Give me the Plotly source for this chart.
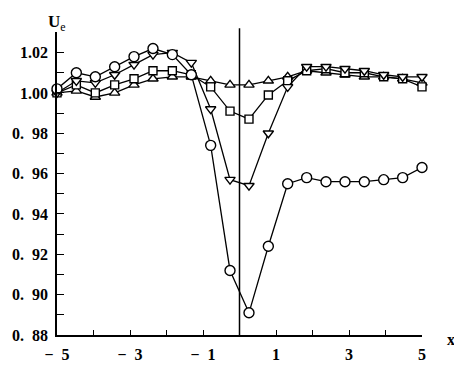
import plotly.graph_objects as go

# x positions (shared by all four series)
x_pos = [-5.0, -4.47, -3.95, -3.42, -2.89, -2.37, -1.84, -1.32, -0.79, -0.26,
         0.26, 0.79, 1.32, 1.84, 2.37, 2.89, 3.42, 3.95, 4.47, 5.0]

ue_circle = [1.002, 1.010, 1.008, 1.013, 1.018, 1.022, 1.019, 1.009, 0.974, 0.912,
             0.891, 0.924, 0.955, 0.958, 0.956, 0.956, 0.956, 0.957, 0.958, 0.963]
ue_tri_down = [1.000, 1.006, 1.005, 1.009, 1.014, 1.019, 1.020, 1.015, 0.992, 0.957,
               0.954, 0.980, 1.003, 1.013, 1.013, 1.012, 1.011, 1.009, 1.008, 1.008]
ue_square = [1.000, 1.004, 1.000, 1.004, 1.007, 1.011, 1.011, 1.009, 1.003, 0.991,
             0.987, 0.999, 1.006, 1.011, 1.012, 1.010, 1.010, 1.008, 1.007, 1.003]
ue_tri_up = [1.000, 1.001, 0.998, 1.000, 1.004, 1.007, 1.008, 1.008, 1.006, 1.004,
             1.004, 1.006, 1.008, 1.011, 1.010, 1.009, 1.008, 1.008, 1.007, 1.005]

NB = "\u00a0\u00a0"
x_tickvals = [-5, -3, -1, 1, 3, 5]
x_ticktext = ["\u2212" + NB + "5", "\u2212" + NB + "3", "\u2212" + NB + "1", "1", "3", "5"]
y_tickvals = [0.88, 0.90, 0.92, 0.94, 0.96, 0.98, 1.00, 1.02]
y_ticktext = ["0." + NB + "88", "0." + NB + "90", "0." + NB + "92", "0." + NB + "94",
              "0." + NB + "96", "0." + NB + "98", "1.00", "1.02"]

FONT = "Liberation Serif"

fig = go.Figure()

series = [
    (ue_tri_up, "triangle-up", 9),
    (ue_square, "square", 8),
    (ue_tri_down, "triangle-down", 9),
    (ue_circle, "circle", 10),
]
for vals, sym, sz in series:
    fig.add_trace(go.Scatter(
        x=x_pos, y=vals, mode="lines+markers",
        line=dict(color="black", width=1.3),
        marker=dict(symbol=sym, size=sz, color="white",
                    line=dict(color="black", width=1.4)),
        showlegend=False, cliponaxis=False,
    ))

# vertical reference line at x = 0
fig.add_shape(type="line", xref="x", yref="paper", x0=0, x1=0, y0=0, y1=1.012,
              line=dict(color="black", width=1.5))

fig.update_xaxes(
    range=[-5, 5], showgrid=False, zeroline=False,
    showline=True, linecolor="black", linewidth=1.6,
    tickmode="array", tickvals=x_tickvals, ticktext=x_ticktext,
    ticks="inside", ticklen=5, tickwidth=1.4, tickcolor="black",
    minor=dict(tickmode="linear", tick0=0, dtick=1, ticks="inside",
               ticklen=5, tickwidth=1.4, tickcolor="black"),
    tickfont=dict(family=FONT, size=16, color="black", weight="bold"),
    ticklabelstandoff=4,
)
fig.update_yaxes(
    range=[0.88, 1.0302], showgrid=False, zeroline=False,
    showline=True, linecolor="black", linewidth=1.6,
    tickmode="array", tickvals=y_tickvals, ticktext=y_ticktext,
    ticks="inside", ticklen=7, tickwidth=1.4, tickcolor="black",
    minor=dict(tickmode="linear", tick0=0.88, dtick=0.01, ticks="inside",
               ticklen=7, tickwidth=1.4, tickcolor="black"),
    tickfont=dict(family=FONT, size=16, color="black", weight="bold"),
    ticklabelstandoff=4,
)

fig.add_annotation(xref="paper", yref="paper", x=0.03, y=1.03,
                   xanchor="right", yanchor="middle", showarrow=False,
                   text="<b>U</b><sub>e</sub>",
                   font=dict(family=FONT, size=17, color="black"))
fig.add_annotation(xref="paper", yref="paper", x=1.064, y=-0.016,
                   xanchor="left", yanchor="middle", showarrow=False,
                   text="<b>x</b>",
                   font=dict(family=FONT, size=16, color="black"))

fig.update_layout(
    width=454, height=375,
    margin=dict(l=57, r=32, t=32, b=27),
    paper_bgcolor="white", plot_bgcolor="white",
)

fig.write_html("out.html")
